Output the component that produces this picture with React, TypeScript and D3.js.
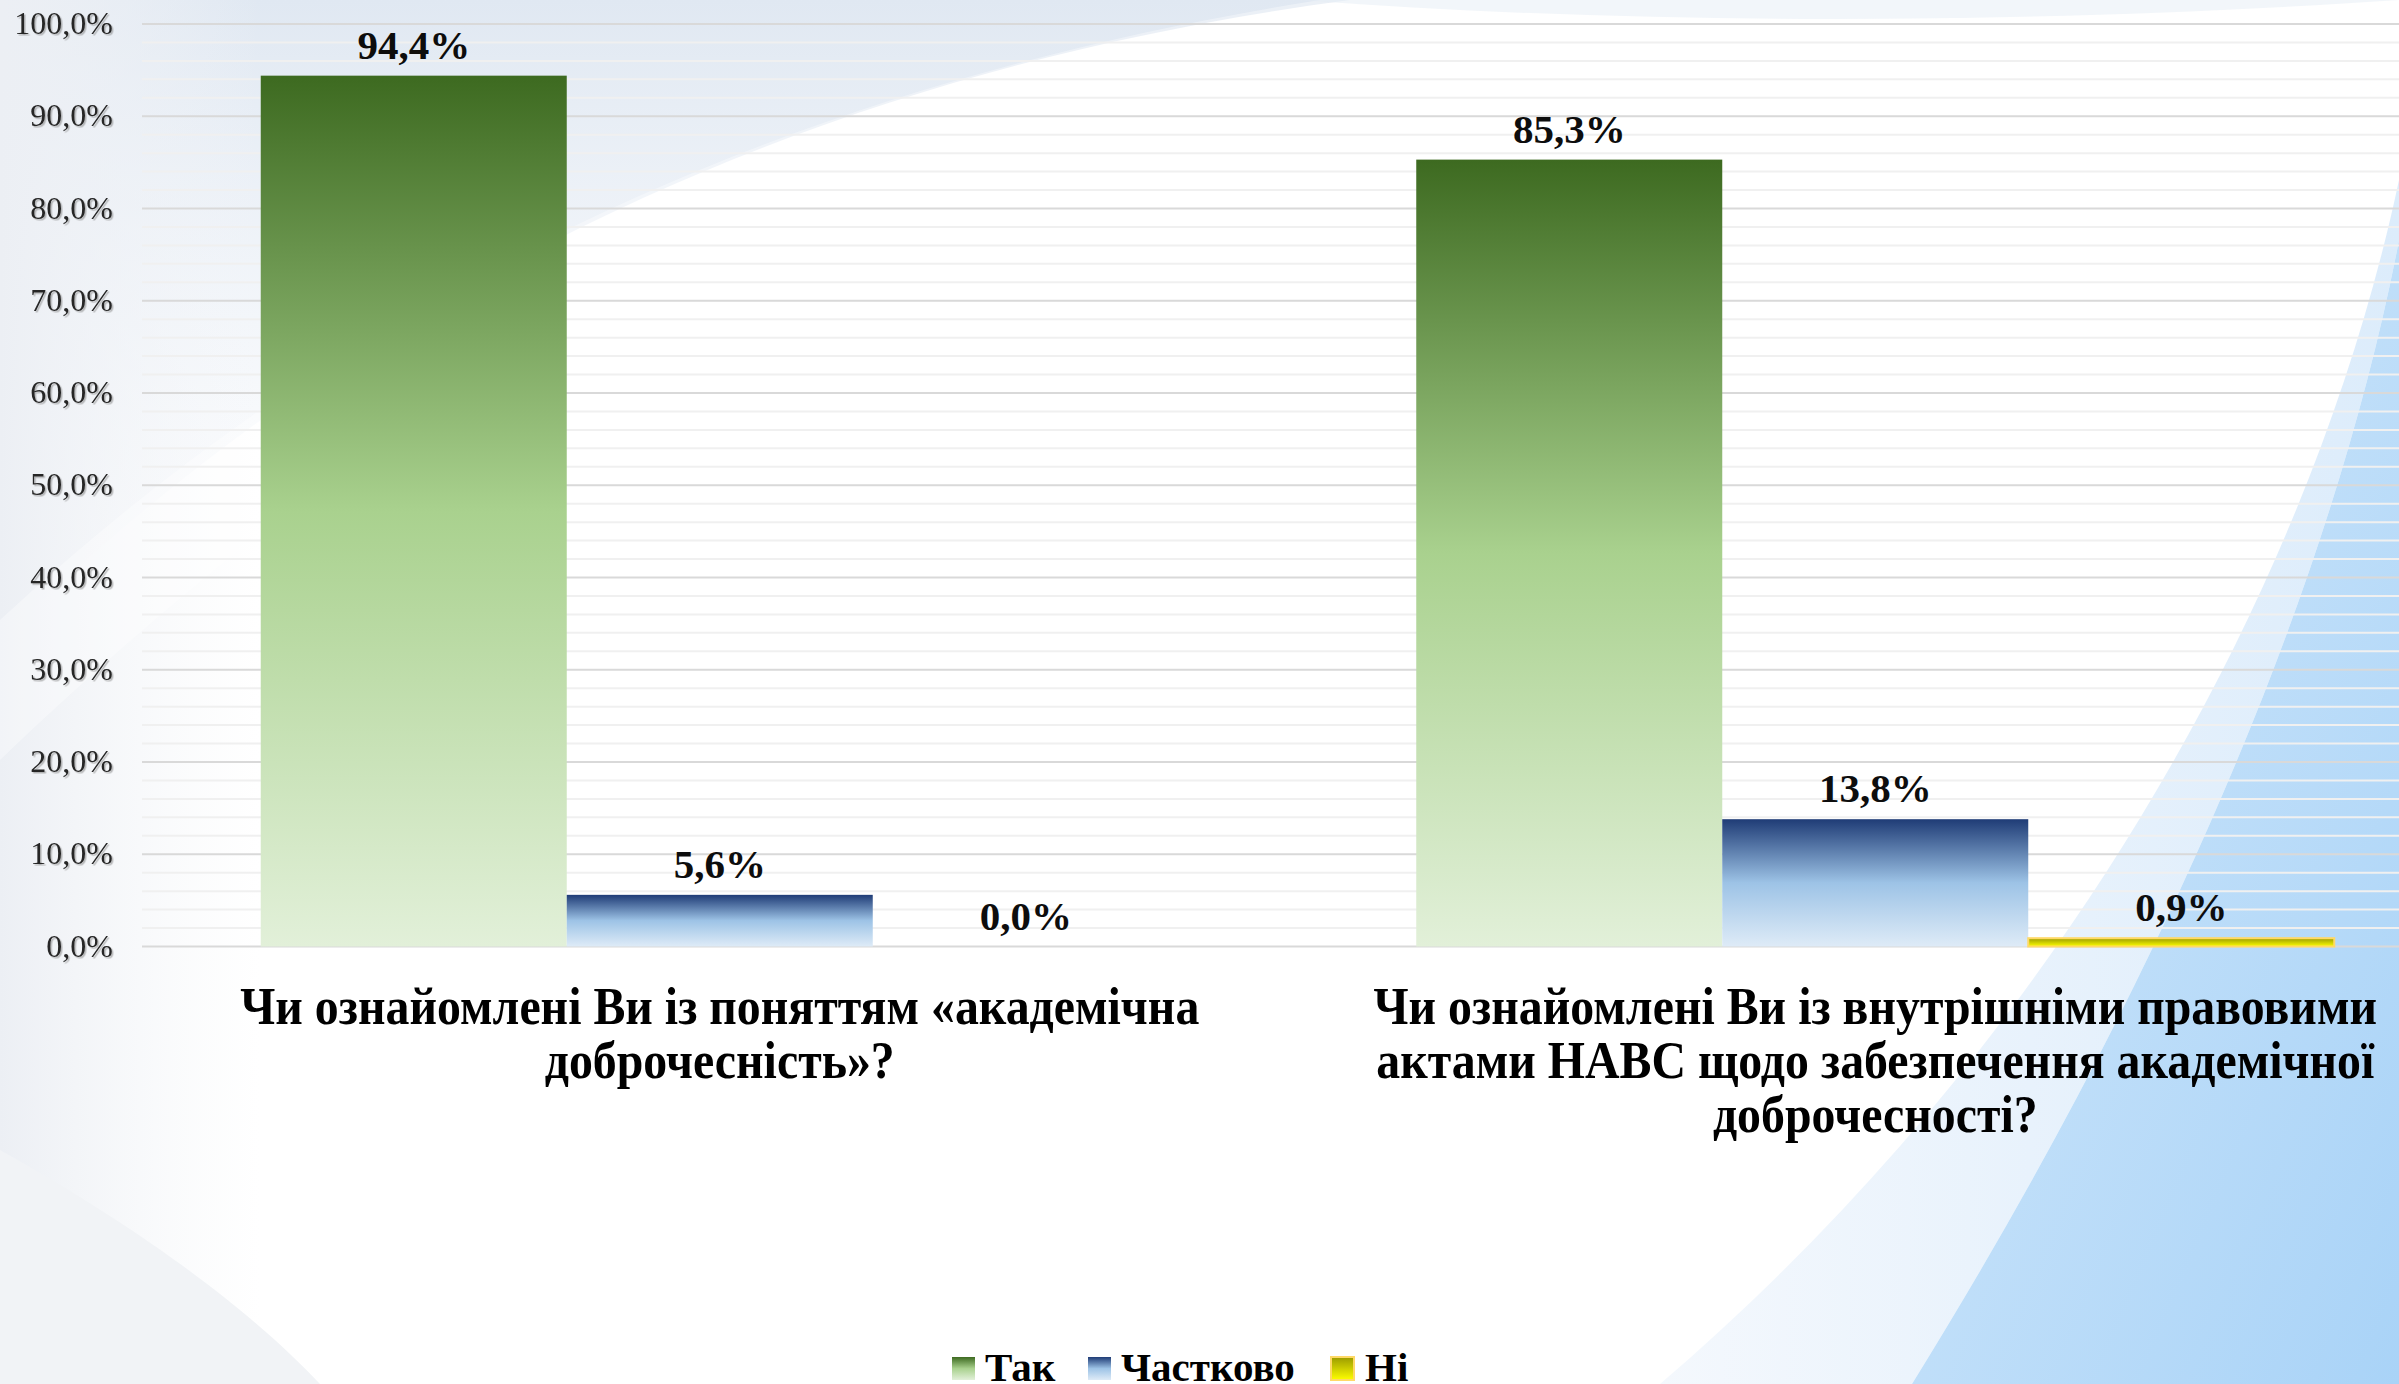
import React from 'react';
import * as d3 from 'd3';

const categoryLines: string[][] = [
  ['Чи ознайомлені Ви із поняттям «академічна', 'доброчесність»?'],
  ['Чи ознайомлені Ви із внутрішніми правовими', 'актами НАВС щодо забезпечення академічної', 'доброчесності?'],
];
const seriesNames = ['Так', 'Частково', 'Ні'];
const takValues = [94.4, 85.3];
const chastkovoValues = [5.6, 13.8];
const niValues = [0.0, 0.9];
const yTickValues = [0, 10, 20, 30, 40, 50, 60, 70, 80, 90, 100];
const yMinorValues = d3.range(0, 101, 2);

const W = 2399;
const H = 1384;
const PLOT_LEFT = 142;
const PLOT_RIGHT = 2453;
const Y0 = 946.5;
const Y100 = 24;
const BAR_W = 306;

const fmt = (v: number) => v.toFixed(1).replace('.', ',') + '%';

export default function App() {
  React.useEffect(() => {
    document.body.style.margin = '0';
  }, []);

  const y = d3.scaleLinear().domain([0, 100]).range([Y0, Y100]);
  const x0 = d3.scaleBand<number>().domain([0, 1]).range([PLOT_LEFT, PLOT_RIGHT]).paddingInner(0).paddingOuter(0);
  const bw = x0.bandwidth();
  const x1 = d3
    .scaleBand<string>()
    .domain(seriesNames)
    .range([(bw - 3 * BAR_W) / 2, (bw + 3 * BAR_W) / 2]);

  const seriesValues = [takValues, chastkovoValues, niValues];
  const fills = ['url(#gGreen)', 'url(#gBlue)', 'url(#gYellow)'];
  const strokes = ['none', 'none', '#ffd966'];

  const serif = '"Liberation Serif", "Times New Roman", serif';

  const legendItems = [
    { name: seriesNames[0], sx: 952, tx: 985, fill: 'url(#gGreen)', stroke: 'none' },
    { name: seriesNames[1], sx: 1088, tx: 1121, fill: 'url(#gBlue)', stroke: 'none' },
    { name: seriesNames[2], sx: 1331, tx: 1365, fill: 'url(#gYellowLeg)', stroke: '#ffd966' },
  ];

  return (
    <div style={{ position: 'fixed', left: 0, top: 0, width: W, height: H, overflow: 'hidden' }}>
      <svg width={W} height={H} viewBox={`0 0 ${W} ${H}`} style={{ display: 'block' }}>
        <defs>
          <linearGradient id="gGreen" x1="0" y1="0" x2="0" y2="1">
            <stop offset="0" stopColor="#3d6a20" />
            <stop offset="0.5" stopColor="#a9d18e" />
            <stop offset="1" stopColor="#e2f0d9" />
          </linearGradient>
          <linearGradient id="gBlue" x1="0" y1="0" x2="0" y2="1">
            <stop offset="0" stopColor="#1f3c76" />
            <stop offset="0.5" stopColor="#9dc3e6" />
            <stop offset="1" stopColor="#deebf7" />
          </linearGradient>
          <linearGradient id="gYellow" x1="0" y1="0" x2="0" y2="1">
            <stop offset="0" stopColor="#9a9a00" />
            <stop offset="1" stopColor="#ffff00" />
          </linearGradient>
          <linearGradient id="gYellowLeg" x1="0" y1="0" x2="0" y2="1">
            <stop offset="0" stopColor="#9a9a00" />
            <stop offset="1" stopColor="#ffff00" />
          </linearGradient>
          <linearGradient id="bgTop" x1="0" y1="0" x2="0" y2="1">
            <stop offset="0" stopColor="#e0e8f2" />
            <stop offset="1" stopColor="#eef2f8" stopOpacity="0" />
          </linearGradient>
          <linearGradient id="bgLeft" x1="0" y1="0" x2="1" y2="0">
            <stop offset="0" stopColor="#eceff4" />
            <stop offset="1" stopColor="#f3f5f8" stopOpacity="0" />
          </linearGradient>
          <linearGradient id="bgRight" x1="0" y1="0" x2="1" y2="1">
            <stop offset="0" stopColor="#d6eafb" />
            <stop offset="1" stopColor="#a9d3f7" />
          </linearGradient>
          <linearGradient id="bgRightPale" x1="0" y1="0" x2="1" y2="0">
            <stop offset="0" stopColor="#f4f8fd" />
            <stop offset="1" stopColor="#dcecfb" />
          </linearGradient>
          <filter id="shadow" x="-10%" y="-20%" width="130%" height="150%">
            <feDropShadow dx="1.5" dy="1.5" stdDeviation="0.7" floodColor="#808080" floodOpacity="0.55" />
          </filter>
        </defs>

        {/* background */}
        <rect x={0} y={0} width={W} height={H} fill="#ffffff" />
        <path d="M0,0 H1350 C 900,60 420,230 0,640 Z" fill="url(#bgTop)" />
        <rect x={0} y={0} width={260} height={H} fill="url(#bgLeft)" />
        <path d="M0,620 C 420,230 880,70 1320,0 H1450 C 950,90 480,300 0,760 Z" fill="#ffffff" opacity={0.35} />
        <path d="M0,1150 C 160,1240 260,1320 320,1384 H0 Z" fill="#f1f3f6" />
        <path d="M2399,180 C 2310,600 2050,1050 1660,1384 H1912 C 2150,1000 2330,600 2399,240 Z" fill="url(#bgRightPale)" />
        <path d="M2399,240 C 2330,600 2150,1000 1912,1384 H2399 Z" fill="url(#bgRight)" />
        <path d="M1300,0 C 1700,30 2100,20 2399,0 Z" fill="#e6edf6" opacity={0.5} />

        {/* gridlines */}
        {yMinorValues.map((v) => (
          <line
            key={'m' + v}
            x1={PLOT_LEFT}
            x2={PLOT_RIGHT}
            y1={y(v)}
            y2={y(v)}
            stroke={v % 10 === 0 ? '#d9d9d9' : '#f0f0f0'}
            strokeWidth={2}
          />
        ))}

        {/* y labels */}
        <g filter="url(#shadow)">
          {yTickValues.map((v) => (
            <text
              key={'t' + v}
              x={113}
              y={y(v) + 10}
              textAnchor="end"
              fontFamily={serif}
              fontSize={32}
              fill="#262626"
            >
              {fmt(v)}
            </text>
          ))}
        </g>

        {/* bars */}
        {categoryLines.map((_, ci) => (
          <g key={'c' + ci} transform={`translate(${x0(ci)},0)`}>
            {seriesNames.map((s, si) => {
              const v = seriesValues[si][ci];
              const bx = x1(s) as number;
              const top = y(v);
              const h = Y0 - top;
              return (
                <g key={s}>
                  {h > 0 && (
                    <rect
                      x={bx}
                      y={top}
                      width={x1.bandwidth()}
                      height={h}
                      fill={fills[si]}
                      stroke={strokes[si]}
                      strokeWidth={strokes[si] === 'none' ? 0 : 2}
                    />
                  )}
                  <text
                    x={bx + x1.bandwidth() / 2}
                    y={top - 17}
                    textAnchor="middle"
                    fontFamily={serif}
                    fontWeight="bold"
                    fontSize={41}
                    fill="#0d0d0d"
                  >
                    {fmt(v)}
                  </text>
                </g>
              );
            })}
          </g>
        ))}

        {/* category labels */}
        {categoryLines.map((lines, ci) => (
          <g key={'l' + ci} transform={`translate(${(x0(ci) as number) + bw / 2},0) scale(0.92,1)`}>
            {lines.map((ln, li) => (
              <text
                key={li}
                x={0}
                y={1024 + li * 54}
                textAnchor="middle"
                fontFamily={serif}
                fontWeight="bold"
                fontSize={52}
                fill="#000000"
              >
                {ln}
              </text>
            ))}
          </g>
        ))}

        {/* legend */}
        {legendItems.map((it) => (
          <g key={it.name}>
            <rect x={it.sx} y={1357} width={23} height={23} fill={it.fill} stroke={it.stroke} strokeWidth={it.stroke === 'none' ? 0 : 2} />
            <text x={it.tx} y={1381} fontFamily={serif} fontWeight="bold" fontSize={41} fill="#000000">
              {it.name}
            </text>
          </g>
        ))}
      </svg>
    </div>
  );
}
